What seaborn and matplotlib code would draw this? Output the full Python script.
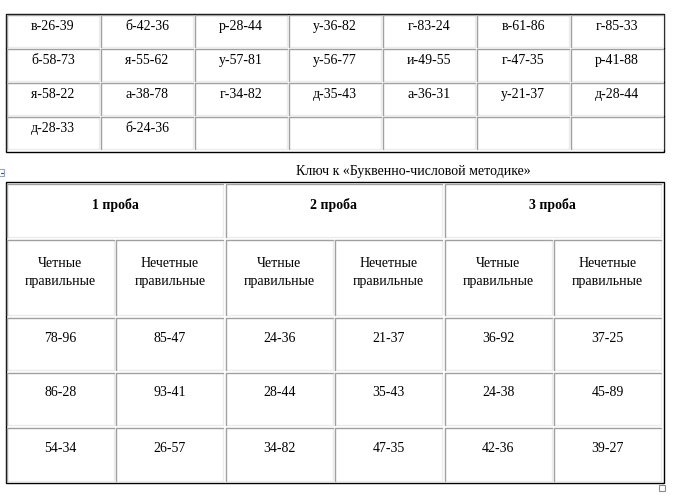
import matplotlib
matplotlib.use("Agg")
import matplotlib.pyplot as plt
import seaborn as sns
from matplotlib.patches import Rectangle

# table data
codes_rows = [
    ["в-26-39", "б-42-36", "р-28-44", "у-36-82", "г-83-24", "в-61-86", "г-85-33"],
    ["б-58-73", "я-55-62", "у-57-81", "у-56-77", "и-49-55", "г-47-35", "р-41-88"],
    ["я-58-22", "а-38-78", "г-34-82", "д-35-43", "а-36-31", "у-21-37", "д-28-44"],
    ["д-28-33", "б-24-36", "", "", "", "", ""],
]
key_title = "Ключ к «Буквенно-числовой методике»"
trials = ["1 проба", "2 проба", "3 проба"]
subheads = ["Четные\nправильные", "Нечетные\nправильные"] * 3
key_rows = [
    ["78-96", "85-47", "24-36", "21-37", "36-92", "37-25"],
    ["86-28", "93-41", "28-44", "35-43", "24-38", "45-89"],
    ["54-34", "26-57", "34-82", "47-35", "42-36", "39-27"],
]

sns.set_theme(style="white")
plt.rcParams["font.family"] = ["Liberation Serif", "DejaVu Serif"]

fig = plt.figure(figsize=(6.75, 4.99), dpi=100)
ax = fig.add_axes([0, 0, 1, 1])
ax.set_xlim(0, 675)
ax.set_ylim(499, 0)
ax.axis("off")

FS = 10
DARK = "#a0a0a0"
LIGHT = "#ececec"


def cell(x, y, w, h, text="", ty=None, weight="normal"):
    # inset style border: dark top/left, light bottom/right
    ax.plot([x, x + w], [y + h, y + h], color=LIGHT, lw=1.0)
    ax.plot([x + w, x + w], [y, y + h], color=LIGHT, lw=1.0)
    ax.plot([x, x + w], [y, y], color=DARK, lw=1.0)
    ax.plot([x, x], [y, y + h], color=DARK, lw=1.0)
    if text:
        ax.text(x + w / 2, ty if ty is not None else y + h / 2, text,
                ha="center", va="center", fontsize=FS, weight=weight,
                color="black", linespacing=1.45)


# top table
ax.add_patch(Rectangle((5.5, 13.5), 658.5, 138, fill=False, ec="black", lw=1.0))
for r, row in enumerate(codes_rows):
    top = 15 + r * 34
    for c, txt in enumerate(row):
        left = 7 + c * 94
        cell(left, top, 92, 31.5, txt, ty=top + 11)

# key title
ax.text(413, 172, key_title, ha="center", va="center", fontsize=FS, color="black")

# little anchor icons
ax.add_patch(Rectangle((-2, 169), 6, 7, fill=False, ec="#9aa4b5", lw=0.8))
ax.plot([0.5, 3], [172.5, 172.5], color="#2f5fb3", lw=0.9)
ax.add_patch(Rectangle((659, 485), 6, 6, fill=False, ec="#8c8c8c", lw=0.8))

# key table
ax.add_patch(Rectangle((5.5, 181.5), 658.5, 301.5, fill=False, ec="black", lw=1.0))
row_tops = [184, 240, 318, 373, 428]
row_h = [53, 75, 52, 52, 53]
col_pitch = 109.4
col_w = 107

for i, t in enumerate(trials):
    left = 7 + 2 * i * col_pitch
    cell(left, row_tops[0], col_pitch + col_w, row_h[0], t,
         ty=row_tops[0] + 21, weight="bold")

for c, t in enumerate(subheads):
    left = 7 + c * col_pitch
    cell(left, row_tops[1], col_w, row_h[1], t, ty=row_tops[1] + 32.5)

for r, row in enumerate(key_rows):
    top = row_tops[2 + r]
    for c, txt in enumerate(row):
        left = 7 + c * col_pitch
        cell(left, top, col_w, row_h[2 + r], txt, ty=top + 20)

fig.savefig("out.png", dpi=100, facecolor="white")
